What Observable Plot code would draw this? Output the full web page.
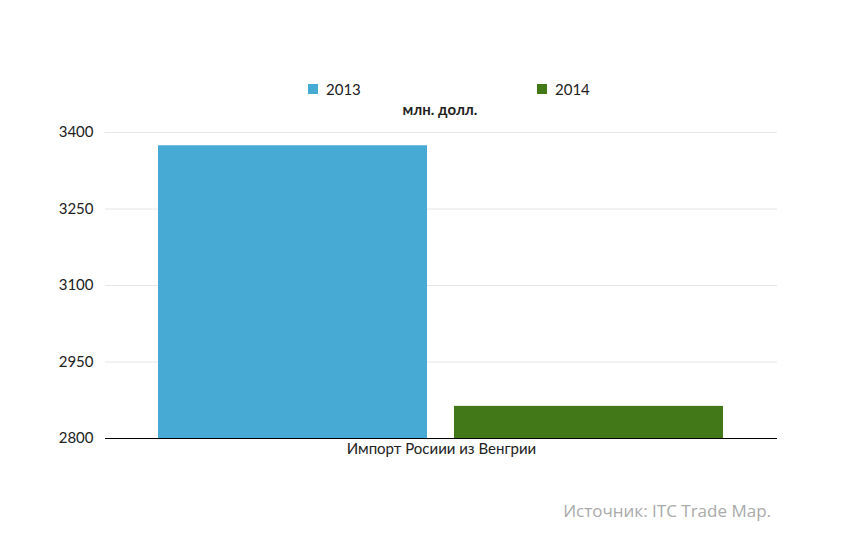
<!DOCTYPE html>
<html><head><meta charset="utf-8">
<script src="https://cdn.jsdelivr.net/npm/d3@7"></script>
<script src="https://cdn.jsdelivr.net/npm/@observablehq/plot@0.6"></script>
<style>
body{margin:0;background:#fff;font-family:Lato,"Noto Sans",sans-serif;}
#wrap{position:relative;width:860px;height:550px;}
#legend{position:absolute;top:80px;left:0;width:860px;height:20px;font-size:15px;color:#222;}
.item{position:absolute;top:0;display:flex;align-items:center;}
.sw{width:10px;height:10px;margin-right:8px;}
#unit{position:absolute;top:100px;left:340px;width:200px;text-align:center;font-size:15px;font-weight:bold;color:#222;}
#src{position:absolute;top:499px;right:89px;font-size:17px;color:#aaa;font-family:"Open Sans",sans-serif;}
svg{position:absolute;top:0;left:0;}
</style></head>
<body><div id="wrap">
<div id="legend"></div>
<div id="unit">млн. долл.</div>
<div id="src">Источник: ITC Trade Map.</div>
</div>
<script>
const category = "Импорт Росиии из Венгрии";
const years = ["2013", "2014"];
const values = [3374, 2863];
const colors = ["#46aad5", "#427818"];
const yTicks = [2800, 2950, 3100, 3250, 3400];

const data = years.map((y, i) => ({category, year: y, value: values[i]}));

const chart = Plot.plot({
  width: 860, height: 550,
  marginTop: 132, marginBottom: 112, marginLeft: 105, marginRight: 83,
  style: {fontFamily: "Lato, 'Noto Sans', sans-serif", fontSize: "15px", color: "#222", background: "transparent"},
  fx: {domain: [category], padding: 0, label: null, axis: "bottom", tickSize: 0, tickPadding: 5},
  x: {domain: years, axis: null, paddingInner: 0.0912, paddingOuter: 0.18},
  y: {domain: [2800, 3400], ticks: yTicks, tickFormat: d => String(d), label: null, tickSize: 0, tickPadding: 12},
  color: {domain: years, range: colors},
  marks: [
    Plot.gridY(yTicks, {stroke: "#e6e6e6", strokeOpacity: 1}),
    Plot.barY(data, {fx: "category", x: "year", y1: 2800, y2: "value", fill: "year"}),
    Plot.ruleY([2800], {stroke: "#000", strokeWidth: 1})
  ]
});
document.getElementById("wrap").appendChild(chart);

const legend = document.getElementById("legend");
const lx = [308, 537];
years.forEach((y, i) => {
  const it = document.createElement("div");
  it.className = "item";
  it.style.left = lx[i] + "px";
  it.innerHTML = `<div class="sw" style="background:${colors[i]}"></div><span>${y}</span>`;
  legend.appendChild(it);
});
</script>
</body></html>
